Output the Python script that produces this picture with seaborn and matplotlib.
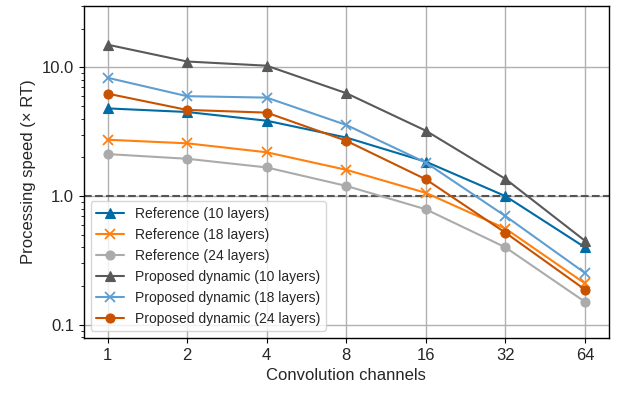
import matplotlib
matplotlib.use("Agg")
import matplotlib.pyplot as plt
import matplotlib.ticker as mticker
import seaborn as sns
import pandas as pd

# ============ Data ============
CHANNELS = [1, 2, 4, 8, 16, 32, 64]
REF_10 = [4.8, 4.5, 3.85, 2.85, 1.85, 1.0, 0.40]
REF_18 = [2.74, 2.57, 2.19, 1.60, 1.06, 0.56, 0.21]
REF_24 = [2.12, 1.95, 1.67, 1.20, 0.79, 0.40, 0.151]
DYN_10 = [15.0, 11.1, 10.3, 6.3, 3.22, 1.36, 0.45]
DYN_18 = [8.3, 5.97, 5.82, 3.57, 1.82, 0.70, 0.253]
DYN_24 = [6.25, 4.67, 4.45, 2.69, 1.35, 0.52, 0.188]

SERIES = {
    "Reference (10 layers)": REF_10,
    "Reference (18 layers)": REF_18,
    "Reference (24 layers)": REF_24,
    "Proposed dynamic (10 layers)": DYN_10,
    "Proposed dynamic (18 layers)": DYN_18,
    "Proposed dynamic (24 layers)": DYN_24,
}
COLORS = ["#006BA4", "#FF800E", "#ABABAB", "#595959", "#5F9ED1", "#C85200"]
MARKERS = ["^", "x", "o", "^", "x", "o"]

rows = []
for name, vals in SERIES.items():
    for c, v in zip(CHANNELS, vals):
        rows.append({"series": name, "channels": c, "speed": v})
df = pd.DataFrame(rows)
names = list(SERIES.keys())

# ============ Plot ============
sns.set_style("ticks")
plt.rcParams["font.family"] = ["Liberation Sans", "DejaVu Sans"]

fig = plt.figure(figsize=(6.2, 3.94), dpi=100)
ax = fig.add_axes([0.135, 0.142, 0.847, 0.843])

for name, col, mk in zip(names, COLORS, MARKERS):
    sub = df[df["series"] == name]
    sns.lineplot(data=sub, x="channels", y="speed", ax=ax, color=col,
                 marker=mk, markersize=6.5, markeredgecolor=col,
                 markeredgewidth=1.3 if mk == "x" else 0.8,
                 linewidth=1.5, label=name, zorder=3)

ax.axhline(1.0, color="#555555", linestyle="--", linewidth=1.5, zorder=2)

ax.set_xscale("log", base=2)
ax.set_yscale("log")
ax.set_xticks(CHANNELS)
ax.set_xticklabels([str(c) for c in CHANNELS])
ax.xaxis.set_minor_locator(mticker.NullLocator())
ax.set_yticks([0.1, 1.0, 10.0])
ax.set_yticklabels(["0.1", "1.0", "10.0"])
ax.yaxis.set_minor_locator(mticker.LogLocator(base=10, subs=range(2, 10)))
ax.yaxis.set_minor_formatter(mticker.NullFormatter())
ax.set_ylim(0.079, 30)
ax.grid(True, which="major", color="#b0b0b0", linewidth=1.0, zorder=0)
ax.tick_params(which="major", labelsize=12, length=3.5, width=0.8,
               color="black", direction="out")
ax.tick_params(which="minor", length=2, width=0.6, color="black",
               direction="out")
for s in ax.spines.values():
    s.set_linewidth(1.0)
    s.set_color("black")

ax.set_xlabel("Convolution channels", fontsize=12)
ax.set_ylabel("Processing speed (× RT)", fontsize=12)

ax.legend(loc="lower left", fontsize=10, framealpha=0.8, borderaxespad=0.5,
          handlelength=2.0)

fig.savefig("out.png", dpi=100)
